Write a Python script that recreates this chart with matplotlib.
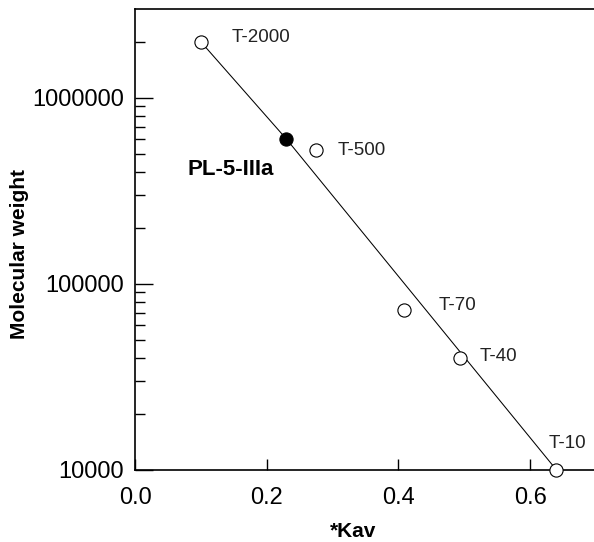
import matplotlib
matplotlib.use("Agg")
import matplotlib.pyplot as plt
from matplotlib.ticker import FixedLocator, FuncFormatter, LogLocator, NullFormatter

plt.rcParams["font.family"] = ["Liberation Sans", "DejaVu Sans"]

# dextran standards (Kav vs molecular weight)
std_names = ["T-2000", "T-500", "T-70", "T-40", "T-10"]
std_kav = [0.100, 0.275, 0.409, 0.494, 0.640]
std_mw = [2000000, 526000, 72000, 40000, 10000]

# sample fraction
sample_name = "PL-5-IIIa"
sample_kav = 0.230
sample_mw = 600000

# calibration line
line_kav = [0.100, 0.230, 0.640]
line_mw = [2000000, 600000, 10000]

# label offsets in pixels (dx, dy)
label_offsets = {
    "T-2000": (31, 4),
    "T-500": (22, -1),
    "T-70": (34, 5),
    "T-40": (19, 1),
    "T-10": (-8, 26),
}

fig = plt.figure(figsize=(5.94, 5.42), dpi=100)
ax = fig.add_axes([135 / 594, 72 / 542, 461 / 594, 460.7 / 542])

ax.plot(line_kav, line_mw, color="black", lw=0.75, zorder=2)
ax.plot(std_kav, std_mw, ls="none", marker="o", ms=9.5, mfc="white",
        mec="black", mew=0.8, zorder=3, clip_on=False)
ax.plot([sample_kav], [sample_mw], ls="none", marker="o", ms=9.5,
        mfc="black", mec="black", mew=0.8, zorder=3)

for name, x, y in zip(std_names, std_kav, std_mw):
    dx, dy = label_offsets[name]
    ax.annotate(name, (x, y), xytext=(dx * 0.72, dy * 0.72),
                textcoords="offset points", ha="left", va="center",
                fontsize=13.5, color="#222222")

ax.annotate(sample_name, (sample_kav, sample_mw), xytext=(-99 * 0.72, -30 * 0.72),
            textcoords="offset points", ha="left", va="center",
            fontsize=16, fontweight="bold")

ax.set_yscale("log")
ax.set_xlim(0, 0.7)
ax.set_ylim(10000, 2.99e6)

ax.xaxis.set_major_locator(FixedLocator([0.0, 0.2, 0.4, 0.6]))
ax.xaxis.set_major_formatter(FuncFormatter(lambda v, p: f"{v:.1f}"))
ax.yaxis.set_major_locator(FixedLocator([1e4, 1e5, 1e6]))
ax.yaxis.set_major_formatter(FuncFormatter(lambda v, p: f"{int(round(v))}"))
ax.yaxis.set_minor_locator(LogLocator(base=10, subs=range(2, 10)))
ax.yaxis.set_minor_formatter(NullFormatter())

ax.tick_params(axis="y", which="major", direction="in", length=13, width=1,
               labelsize=17, pad=8)
ax.tick_params(axis="y", which="minor", direction="in", length=7, width=1)
ax.tick_params(axis="x", which="major", direction="in", length=8, width=1,
               labelsize=17, pad=12)
ax.tick_params(axis="x", which="minor", bottom=False)
for s in ax.spines.values():
    s.set_linewidth(1.2)

ax.set_xlabel("*Kav", fontsize=15, fontweight="bold")
ax.set_ylabel("Molecular weight", fontsize=15, fontweight="bold")
ax.xaxis.set_label_coords((353.5 - 135) / 461, -(522 - 470) / 460.7)
ax.yaxis.set_label_coords(-(135 - 29) / 461, (470 - 254) / 460.7)

fig.savefig("out.png", dpi=100)
